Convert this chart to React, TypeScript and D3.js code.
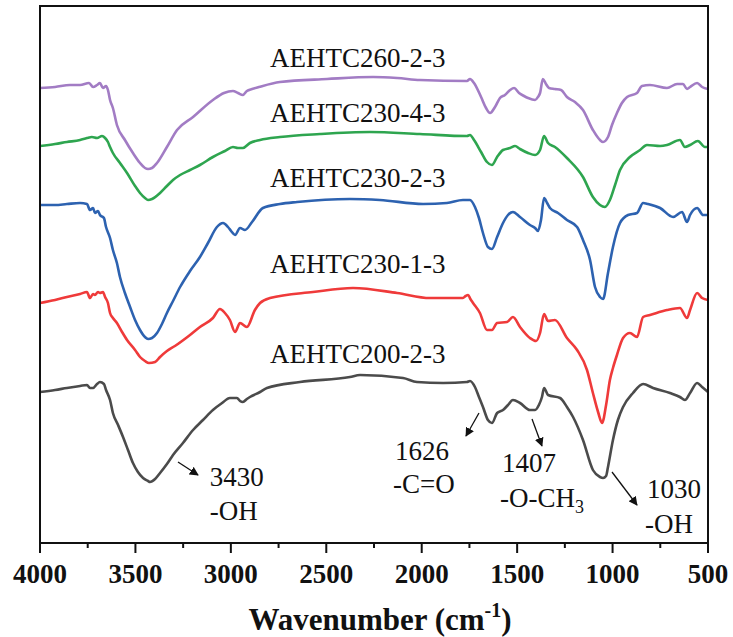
import React from 'react';
import * as d3 from 'd3';

// FTIR spectra, offset vertically (transmittance, arbitrary units)
const purple: [number, number][] = [
  [4000, 91.0], [3921, 91.2], [3843, 91.6], [3790, 91.6], [3743, 92.0], [3722, 91.2], [3701, 91.6], [3686, 92.0],
  [3670, 91.0], [3654, 91.4], [3644, 90.6], [3633, 88.6], [3618, 87.0], [3597, 83.6], [3555, 80.6], [3513, 78.0],
  [3476, 76.0], [3450, 75.0], [3434, 74.8], [3413, 75.0], [3387, 76.0], [3335, 79.2], [3282, 82.6], [3198, 85.2],
  [3094, 88.6], [3036, 90.0], [2989, 90.4], [2963, 90.0], [2937, 89.6], [2916, 90.4], [2889, 90.8], [2853, 91.2],
  [2743, 92.2], [2496, 92.8], [2255, 93.2], [2129, 93.0], [2009, 92.6], [1763, 92.4], [1747, 92.8], [1726, 92.0],
  [1689, 89.2], [1663, 87.0], [1642, 86.0], [1616, 87.2], [1590, 89.0], [1564, 89.6], [1537, 90.6], [1516, 91.0],
  [1490, 90.0], [1464, 89.4], [1443, 89.0], [1406, 88.6], [1391, 89.2], [1380, 90.0], [1365, 92.8], [1349, 91.8],
  [1333, 91.0], [1302, 90.8], [1270, 90.6], [1239, 89.2], [1197, 88.2], [1155, 86.6], [1103, 82.6], [1066, 80.6],
  [1050, 80.2], [1024, 81.2], [1003, 83.6], [977, 86.0], [951, 88.0], [924, 89.2], [872, 90.0], [846, 91.4],
  [804, 91.6], [715, 91.0], [662, 91.8], [631, 91.8], [610, 90.8], [594, 91.2], [557, 92.0], [531, 91.2], [500, 90.8],
];

const green: [number, number][] = [
  [4000, 79.4], [3921, 79.8], [3859, 80.2], [3790, 80.6], [3754, 81.0], [3728, 81.2], [3701, 81.0], [3675, 81.4],
  [3659, 81.0], [3644, 80.2], [3633, 79.2], [3618, 78.0], [3581, 76.0], [3544, 74.0], [3502, 71.4], [3476, 70.0],
  [3450, 69.0], [3434, 68.6], [3413, 68.8], [3371, 70.0], [3335, 71.4], [3303, 72.6], [3266, 73.6], [3214, 74.6],
  [3162, 75.6], [3094, 77.2], [3031, 78.4], [2989, 79.2], [2963, 79.0], [2937, 79.0], [2900, 80.0], [2847, 80.6],
  [2743, 81.2], [2533, 81.8], [2271, 82.2], [2009, 81.8], [1763, 81.4], [1747, 81.6], [1726, 80.6], [1689, 78.2],
  [1658, 76.2], [1632, 75.6], [1605, 77.2], [1574, 78.6], [1537, 79.0], [1511, 79.4], [1485, 78.8], [1443, 78.0],
  [1406, 77.6], [1380, 78.6], [1359, 81.4], [1338, 80.0], [1302, 79.2], [1239, 77.0], [1155, 73.2], [1103, 69.2],
  [1066, 67.6], [1040, 67.2], [1014, 68.6], [987, 71.6], [961, 74.6], [909, 77.2], [856, 78.6], [820, 79.6],
  [751, 79.4], [715, 79.6], [647, 80.6], [621, 79.2], [594, 79.6], [553, 80.4], [516, 79.2], [500, 79.2],
];

const blue: [number, number][] = [
  [4000, 67.6], [3921, 67.6], [3859, 67.8], [3790, 68.0], [3754, 67.8], [3738, 66.6], [3722, 67.0], [3712, 66.0],
  [3696, 66.4], [3686, 65.6], [3665, 65.0], [3654, 63.2], [3633, 61.0], [3618, 58.6], [3597, 56.0], [3581, 53.2],
  [3555, 50.0], [3528, 47.2], [3502, 44.6], [3476, 42.6], [3450, 41.2], [3434, 40.8], [3413, 41.0], [3387, 42.0],
  [3361, 43.8], [3335, 46.0], [3303, 48.4], [3266, 51.2], [3214, 54.4], [3162, 57.2], [3120, 60.0], [3073, 63.2],
  [3041, 64.0], [3015, 63.2], [2999, 62.4], [2978, 61.6], [2952, 63.0], [2926, 62.6], [2889, 64.2], [2832, 67.0],
  [2743, 67.8], [2653, 68.2], [2376, 68.8], [2219, 68.6], [1993, 67.8], [1868, 68.0], [1784, 68.6], [1747, 68.6],
  [1721, 67.2], [1700, 65.0], [1679, 62.0], [1653, 59.2], [1632, 58.8], [1605, 61.2], [1574, 64.0], [1548, 65.6],
  [1522, 66.2], [1485, 65.2], [1433, 63.6], [1406, 63.0], [1391, 62.4], [1375, 64.6], [1359, 69.0], [1343, 68.0],
  [1328, 67.0], [1286, 66.0], [1239, 64.6], [1186, 63.2], [1155, 60.6], [1118, 56.6], [1092, 51.2], [1066, 49.2],
  [1050, 48.8], [1024, 54.0], [998, 59.2], [961, 64.0], [919, 65.6], [872, 66.0], [840, 68.0], [814, 67.8],
  [751, 67.0], [683, 65.2], [636, 66.2], [610, 64.2], [594, 65.6], [557, 67.0], [526, 65.6], [500, 65.6],
];

const red: [number, number][] = [
  [4000, 48.0], [3921, 48.6], [3859, 49.2], [3790, 49.8], [3754, 50.2], [3738, 49.0], [3722, 49.8], [3712, 49.6],
  [3696, 50.2], [3686, 50.0], [3670, 50.2], [3659, 49.2], [3644, 48.0], [3633, 46.0], [3618, 45.0], [3597, 44.0],
  [3570, 42.2], [3544, 40.6], [3502, 38.6], [3476, 37.2], [3450, 36.4], [3429, 36.0], [3397, 36.2], [3371, 37.2],
  [3335, 38.4], [3293, 39.4], [3214, 41.6], [3162, 43.2], [3094, 45.0], [3057, 46.8], [3031, 46.0], [3005, 44.6],
  [2978, 42.2], [2952, 44.0], [2916, 43.2], [2874, 46.6], [2847, 48.0], [2795, 49.0], [2570, 50.2], [2360, 51.0],
  [2129, 50.0], [1957, 49.0], [1784, 49.0], [1770, 49.4], [1757, 49.6], [1745, 48.8], [1731, 48.0], [1695, 46.0],
  [1658, 42.6], [1632, 42.6], [1605, 44.0], [1553, 44.2], [1522, 45.2], [1485, 43.2], [1433, 41.0], [1401, 40.4],
  [1380, 42.0], [1359, 45.8], [1338, 44.4], [1302, 44.6], [1239, 41.0], [1186, 38.6], [1134, 34.6], [1103, 30.0],
  [1076, 26.2], [1055, 24.0], [1034, 27.6], [1014, 32.6], [998, 35.0], [977, 37.6], [945, 41.0], [909, 42.0],
  [872, 41.2], [840, 45.2], [804, 45.6], [715, 46.6], [647, 47.0], [610, 45.0], [594, 46.6], [557, 50.0],
  [531, 49.0], [500, 48.6],
];

const black: [number, number][] = [
  [4000, 30.2], [3921, 30.6], [3859, 31.0], [3790, 31.4], [3754, 31.6], [3738, 31.0], [3722, 31.0], [3701, 31.8],
  [3686, 32.2], [3665, 31.8], [3654, 30.6], [3633, 28.6], [3618, 26.0], [3591, 23.6], [3565, 21.2], [3539, 18.6],
  [3513, 16.0], [3487, 14.2], [3460, 13.0], [3434, 12.4], [3424, 12.2], [3397, 12.8], [3371, 14.0], [3335, 15.8],
  [3303, 17.6], [3251, 20.0], [3198, 22.6], [3146, 24.6], [3094, 26.6], [3046, 28.0], [3005, 29.0], [2968, 29.0],
  [2952, 28.4], [2937, 28.2], [2916, 28.8], [2900, 29.2], [2847, 30.2], [2811, 31.0], [2638, 32.2], [2376, 33.2],
  [2323, 33.6], [2098, 33.0], [2025, 32.2], [1888, 32.0], [1763, 32.2], [1747, 32.4], [1721, 31.2], [1700, 29.2],
  [1679, 27.2], [1653, 24.6], [1632, 24.0], [1605, 26.0], [1574, 26.6], [1548, 27.6], [1522, 28.6], [1485, 28.0],
  [1433, 26.6], [1406, 26.6], [1386, 27.6], [1370, 29.2], [1359, 31.0], [1338, 29.6], [1275, 29.0], [1239, 27.2],
  [1207, 25.2], [1155, 20.6], [1103, 14.6], [1066, 13.2], [1050, 13.0], [1034, 13.4], [1024, 15.2], [998, 20.6],
  [972, 24.6], [945, 27.2], [893, 30.0], [840, 31.8], [788, 31.0], [699, 30.0], [647, 29.2], [621, 28.6],
  [594, 30.0], [557, 32.0], [531, 31.2], [500, 30.2],
];

const seriesData = [black, red, blue, green, purple];
const seriesNames = ['AEHTC200-2-3', 'AEHTC230-1-3', 'AEHTC230-2-3', 'AEHTC230-4-3', 'AEHTC260-2-3'];
const seriesColors = ['#4b4b4b', '#ef3a3a', '#2d62b0', '#2ea54f', '#a27cc4'];
// name label position: [wavenumber at centre, baseline level]
const nameAnchors: [number, number][] = [
  [2335, 36.0], [2335, 54.0], [2335, 71.2], [2335, 84.2], [2335, 95.2],
];

// x axis ticks (cm-1)
const majorTicks = [4000, 3500, 3000, 2500, 2000, 1500, 1000, 500];
const minorTicks = [3750, 3250, 2750, 2250, 1750, 1250, 750];

// band assignments: wavenumber text, group, text anchors and arrow ends
const bandValues = ['3430', '1626', '1407', '1030'];
const bandGroups = ['-OH', '-C=O', '-O-CH', '-OH'];
const bandGroupSub = ['', '', '3', ''];
const bandValueAt: [number, number][] = [[3110, 11.4], [2140, 16.6], [1579, 14.2], [820, 9.0]];
const bandGroupAt: [number, number][] = [[3110, 4.6], [2150, 10.0], [1590, 7.2], [830, 2.0]];
const arrowFrom: [number, number][] = [[3277, 16.2], [1700, 26.0], [1422, 24.8], [1003, 14.2]];
const arrowTo: [number, number][] = [[3172, 13.6], [1768, 21.4], [1370, 19.4], [872, 7.6]];

const W = 733;
const H = 637;
const plot = { left: 40, right: 708, top: 6, bottom: 543 };
const textStyle = { fontFamily: 'Liberation Serif' };

export default function App() {
  const x = d3.scaleLinear().domain([4000, 500]).range([plot.left, plot.right]);
  const y = d3.scaleLinear().domain([0, 107.4]).range([plot.bottom, plot.top]);
  const line = d3
    .line<[number, number]>()
    .x((d) => x(d[0]))
    .y((d) => y(d[1]))
    .curve(d3.curveMonotoneX);

  return (
    <svg
      width={W}
      height={H}
      viewBox={`0 0 ${W} ${H}`}
      style={{ position: 'absolute', left: 0, top: 0, background: '#fff' }}
    >
      <defs>
        <marker id="arrowHead" viewBox="0 0 10 10" refX="9" refY="5" markerWidth="9" markerHeight="9" orient="auto" markerUnits="userSpaceOnUse">
          <path d="M0,0 L10,5 L0,10 Z" fill="#111" />
        </marker>
      </defs>

      {/* spectra */}
      {seriesData.map((s, i) => (
        <path key={seriesNames[i]} d={line(s) ?? ''} fill="none" stroke={seriesColors[i]} strokeWidth={2.6} strokeLinejoin="round" />
      ))}

      {/* sample names */}
      {nameAnchors.map((a, i) => (
        <text key={'n' + i} x={x(a[0])} y={y(a[1])} textAnchor="middle" fontSize={27} fill="#111" style={textStyle}>
          {seriesNames[i]}
        </text>
      ))}

      {/* band annotations */}
      {bandValues.map((v, i) => (
        <g key={'b' + i} fill="#111">
          <line
            x1={x(arrowFrom[i][0])}
            y1={y(arrowFrom[i][1])}
            x2={x(arrowTo[i][0])}
            y2={y(arrowTo[i][1])}
            stroke="#111"
            strokeWidth={1.3}
            markerEnd="url(#arrowHead)"
          />
          <text x={x(bandValueAt[i][0])} y={y(bandValueAt[i][1])} fontSize={27} style={textStyle}>
            {v}
          </text>
          <text x={x(bandGroupAt[i][0])} y={y(bandGroupAt[i][1])} fontSize={27} style={textStyle}>
            {bandGroups[i]}
            {bandGroupSub[i] && (
              <tspan fontSize={18} dy={6}>
                {bandGroupSub[i]}
              </tspan>
            )}
          </text>
        </g>
      ))}

      {/* frame */}
      <rect
        x={plot.left}
        y={plot.top}
        width={plot.right - plot.left}
        height={plot.bottom - plot.top}
        fill="none"
        stroke="#111"
        strokeWidth={2}
      />

      {/* x axis ticks */}
      {majorTicks.map((t) => (
        <g key={'M' + t}>
          <line x1={x(t)} x2={x(t)} y1={plot.bottom} y2={plot.bottom + 10} stroke="#111" strokeWidth={2} />
          <text x={x(t)} y={plot.bottom + 40} textAnchor="middle" fontSize={27} fontWeight="bold" fill="#111" style={textStyle}>
            {t}
          </text>
        </g>
      ))}
      {minorTicks.map((t) => (
        <line key={'m' + t} x1={x(t)} x2={x(t)} y1={plot.bottom} y2={plot.bottom + 5} stroke="#111" strokeWidth={2} />
      ))}

      {/* x axis title */}
      <text x={(plot.left + plot.right) / 2 + 6} y={630} textAnchor="middle" fontSize={31} fontWeight="bold" fill="#111" style={textStyle}>
        Wavenumber (cm
        <tspan fontSize={20} dy={-13}>-1</tspan>
        <tspan dy={13}>)</tspan>
      </text>
    </svg>
  );
}
